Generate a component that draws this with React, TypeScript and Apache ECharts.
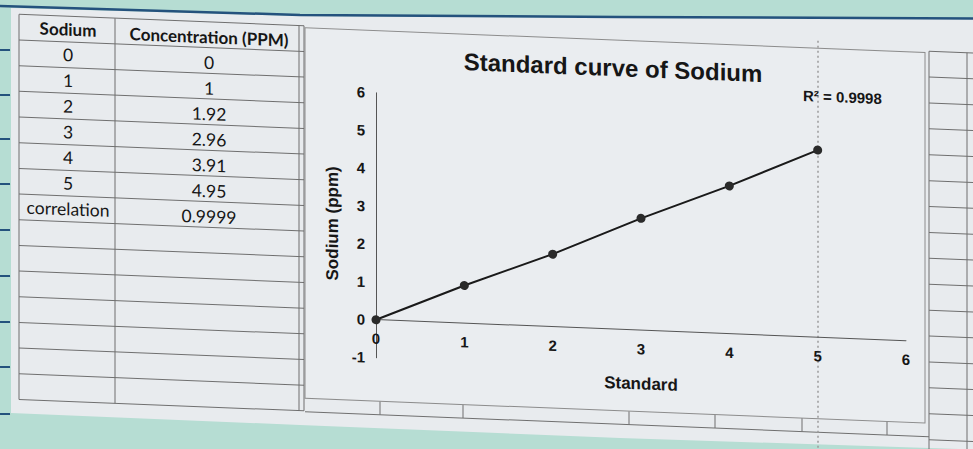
import React, { useEffect, useRef } from "react";
import * as echarts from "echarts";

// ---------- data ----------
const standards = [0, 1, 2, 3, 4, 5];
const concentrations = [0, 1, 1.92, 2.96, 3.91, 4.95];
const tableHeaders = ["Sodium", "Concentration (PPM)"];
const correlationLabel = "correlation";
const correlationValue = "0.9999";
const rSquaredText = "R² = 0.9998";
const chartTitle = "Standard curve of Sodium";
const xAxisName = "Standard";
const yAxisName = "Sodium (ppm)";
const xRange = [0, 6];
const yRange = [-1, 6];

// ---------- layout / style ----------
const W = 973;
const H = 449;
const OFF = 40; // extra room above so the skewed sheet covers the photo
const CH = 500;
const K = 0.04; // slope of the photographed sheet
const SKEW = (Math.atan(K) * 180) / Math.PI;
const L = (x: number, y: number) => y + OFF - K * x; // photo y -> local y

const TEAL = "#b6ddd3";
const PAPER = "#e8ebee";
const GRID_LINE = "#6f6f6f";
const INK = "#161616";
const FONT = "'Liberation Sans', Arial, sans-serif";
const TFONT = "Lato, 'Open Sans', sans-serif";

function buildGraphics() {
  const g: any[] = [];
  // paper sheet
  g.push({
    type: "polygon",
    z: -100,
    silent: true,
    shape: {
      points: [
        [11, L(11, 8)],
        [300, L(300, 16)],
        [620, L(620, 18)],
        [990, L(990, 19)],
        [990, L(990, 450)],
        [620, L(620, 438)],
        [300, L(300, 425)],
        [11, L(11, 413)],
      ],
    },
    style: { fill: PAPER },
  });
  // notebook line at top edge
  g.push({
    type: "polyline",
    z: -90,
    silent: true,
    shape: {
      points: [
        [0, L(0, 6)],
        [300, L(300, 15)],
        [620, L(620, 17)],
        [990, L(990, 18.5)],
      ],
    },
    style: { stroke: "#24527d", lineWidth: 2.5, fill: null },
  });
  // notebook dashes on the left margin
  [50, 95, 139, 184, 230, 276, 322, 367, 414].forEach((y) => {
    g.push({
      type: "line",
      z: -90,
      silent: true,
      shape: { x1: 0, y1: L(0, y), x2: 10, y2: L(10, y) },
      style: { stroke: "#24527d", lineWidth: 2 },
    });
  });

  // ----- spreadsheet table on the left -----
  const tLeft = 19,
    tC1 = 115,
    tC2 = 299,
    tC3 = 304;
  const tTop = 53.6,
    row = 25.67,
    nRows = 15;
  for (let i = 0; i <= nRows; i++) {
    const y = tTop + row * i;
    g.push({
      type: "line",
      z: -50,
      silent: true,
      shape: { x1: tLeft, y1: y, x2: tC3, y2: y },
      style: { stroke: GRID_LINE, lineWidth: 1 },
    });
  }
  [tLeft, tC1, tC2, tC3].forEach((x) => {
    g.push({
      type: "line",
      z: -50,
      silent: true,
      shape: { x1: x, y1: tTop, x2: x, y2: tTop + row * nRows },
      style: { stroke: GRID_LINE, lineWidth: 1 },
    });
  });
  const c1x = (tLeft + tC1) / 2 + 1;
  const c2x = (tC1 + tC2) / 2 + 2;
  const rowsText: [string, string, boolean][] = [
    [tableHeaders[0], tableHeaders[1], true],
    ...standards.map(
      (s, i) => [String(s), String(concentrations[i]), false] as [string, string, boolean]
    ),
    [correlationLabel, correlationValue, false],
  ];
  rowsText.forEach(([a, b, bold], i) => {
    const cy = tTop + row * (i + 0.5);
    g.push({
      type: "text",
      z: 10,
      silent: true,
      x: c1x,
      y: cy,
      style: {
        text: a,
        fill: INK,
        fontSize: bold ? 17 : 17.5,
        fontWeight: bold ? "bold" : "normal",
        fontFamily: TFONT,
        align: "center",
        verticalAlign: "middle",
      },
    });
    g.push({
      type: "text",
      z: 10,
      silent: true,
      x: c2x,
      y: cy + 2,
      style: {
        text: b,
        fill: INK,
        fontSize: bold ? 17 : 17.5,
        fontWeight: bold ? "bold" : "normal",
        fontFamily: TFONT,
        align: "center",
        verticalAlign: "middle",
      },
    });
  });

  // ----- chart frame -----
  const fTop = 55.5,
    fBottom = 426,
    fLeft = 305,
    fRight = 925;
  g.push({
    type: "rect",
    z: -40,
    silent: true,
    shape: { x: fLeft, y: fTop, width: fRight - fLeft, height: fBottom - fTop },
    style: { fill: "#eaedf0", stroke: "#8c8c8c", lineWidth: 1 },
  });
  // row of cells below the frame
  const bBottom = 439.5;
  g.push({
    type: "line",
    z: -50,
    silent: true,
    shape: { x1: fLeft, y1: bBottom, x2: 929, y2: bBottom },
    style: { stroke: GRID_LINE, lineWidth: 1 },
  });
  [380, 463, 629, 715, 802, 887].forEach((x) => {
    g.push({
      type: "line",
      z: -50,
      silent: true,
      shape: { x1: x, y1: fBottom, x2: x, y2: bBottom },
      style: { stroke: GRID_LINE, lineWidth: 1 },
    });
  });
  // column of cells on the right
  const rTop = 54,
    rRow = 25.9;
  for (let i = 0; i <= 15; i++) {
    const y = rTop + rRow * i;
    g.push({
      type: "line",
      z: -50,
      silent: true,
      shape: { x1: 929, y1: y, x2: 980, y2: y },
      style: { stroke: GRID_LINE, lineWidth: 1 },
    });
  }
  [929, 967].forEach((x) => {
    g.push({
      type: "line",
      z: -50,
      silent: true,
      shape: { x1: x, y1: rTop, x2: x, y2: rTop + rRow * 15.5 },
      style: { stroke: GRID_LINE, lineWidth: 1 },
    });
  });
  // dotted page-break line
  g.push({
    type: "line",
    z: -30,
    silent: true,
    shape: { x1: 818, y1: 48, x2: 818, y2: 456 },
    style: { stroke: "#9a9a9a", lineWidth: 1.5, lineDash: [2, 3] },
  });
  // R² label
  g.push({
    type: "text",
    z: 10,
    silent: true,
    x: 803,
    y: L(842, 97),
    style: {
      text: rSquaredText,
      fill: INK,
      fontSize: 15,
      fontWeight: "bold",
      fontFamily: FONT,
      align: "left",
      verticalAlign: "middle",
    },
  });
  return g;
}

// axis geometry (local coords)
const yTopLocal = L(360, 92); // value 6
const yBottomLocal = L(360, 357); // value -1
const unit = (yBottomLocal - yTopLocal) / (yRange[1] - yRange[0]);
const zeroShift = (0 - yRange[0]) * unit; // distance from grid bottom up to value 0
const xLeft = 376;
const xRight = 906;

const option: any = {
  animation: false,
  backgroundColor: TEAL,
  title: {
    text: chartTitle,
    left: 613,
    top: 71,
    textAlign: "center",
    padding: 0,
    textStyle: { fontSize: 24, fontWeight: "bold", color: INK, fontFamily: FONT },
  },
  grid: {
    left: xLeft,
    right: W - xRight,
    top: yTopLocal,
    bottom: CH - yBottomLocal,
  },
  xAxis: {
    type: "value",
    min: xRange[0],
    max: xRange[1],
    interval: 1,
    offset: -zeroShift,
    name: xAxisName,
    nameLocation: "middle",
    nameGap: 45,
    nameTextStyle: { fontSize: 17, fontWeight: "bold", color: INK, fontFamily: FONT },
    axisLine: { show: true, onZero: false, lineStyle: { color: "#555", width: 1 } },
    axisTick: { show: false },
    splitLine: { show: false },
    axisLabel: { margin: 11, fontSize: 15, fontWeight: "bold", color: INK, fontFamily: FONT },
  },
  yAxis: {
    type: "value",
    min: yRange[0],
    max: yRange[1],
    interval: 1,
    name: yAxisName,
    nameLocation: "middle",
    nameGap: 31,
    nameTextStyle: { fontSize: 17, fontWeight: "bold", color: INK, fontFamily: FONT },
    axisLine: { show: true, onZero: false, lineStyle: { color: "#555", width: 1 } },
    axisTick: { show: false },
    splitLine: { show: false },
    axisLabel: { margin: 11, fontSize: 15, fontWeight: "bold", color: INK, fontFamily: FONT },
  },
  series: [
    {
      type: "line",
      data: standards.map((s, i) => [s, concentrations[i]]),
      symbol: "circle",
      symbolSize: 9,
      showSymbol: true,
      lineStyle: { color: "#1a1a1a", width: 2 },
      itemStyle: { color: "#2a2a2a" },
      z: 5,
    },
  ],
  graphic: buildGraphics(),
};

export default function App() {
  const ref = useRef<HTMLDivElement>(null);
  useEffect(() => {
    const el = ref.current;
    if (!el) return;
    const chart = echarts.init(el, undefined, { renderer: "svg", width: W, height: CH });
    chart.setOption(option);
    return () => chart.dispose();
  }, []);
  return (
    <div
      style={{
        position: "fixed",
        left: 0,
        top: 0,
        width: W,
        height: H,
        overflow: "hidden",
        background: TEAL,
      }}
    >
      <div
        ref={ref}
        style={{
          position: "absolute",
          left: 0,
          top: -OFF,
          width: W,
          height: CH,
          transform: `skewY(${SKEW}deg)`,
          transformOrigin: "0 0",
        }}
      />
    </div>
  );
}
